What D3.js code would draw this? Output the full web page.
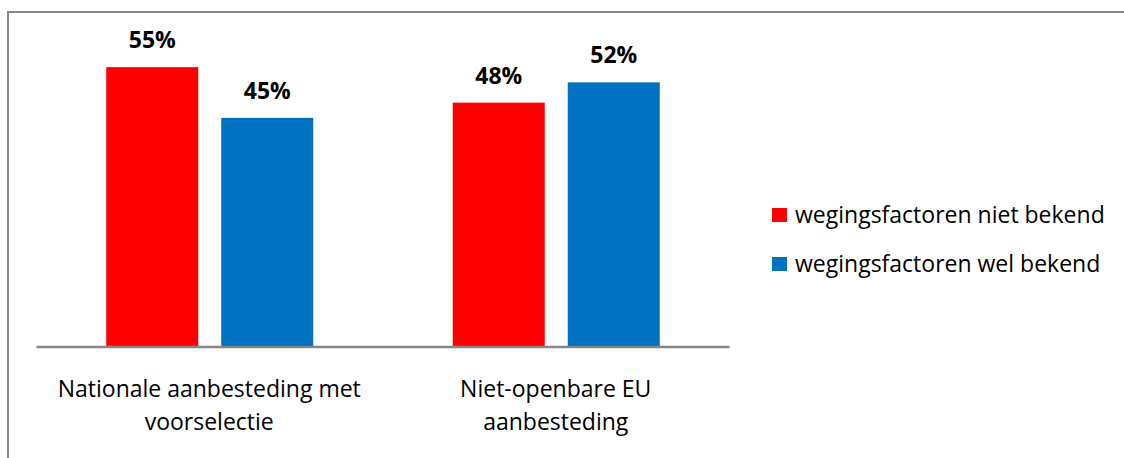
<!DOCTYPE html>
<html><head><meta charset="utf-8">
<script src="https://cdn.jsdelivr.net/npm/d3@7"></script>
<style>body{margin:0;background:#fff}svg{display:block}</style>
</head><body>
<script>
const categories = [["Nationale aanbesteding met","voorselectie"],["Niet-openbare EU","aanbesteding"]];
const seriesNames = ["wegingsfactoren niet bekend","wegingsfactoren wel bekend"];
const seriesColors = ["#FF0000","#0070C0"];
const nietBekend = [55, 48];
const welBekend = [45, 52];
const seriesValues = [nietBekend, welBekend];

const W = 1124, H = 458;
const svg = d3.select("body").append("svg").attr("width", W).attr("height", H);
svg.append("rect").attr("x", 8).attr("y", 12).attr("width", 1130).attr("height", 470)
  .attr("fill", "none").attr("stroke", "#868686").attr("stroke-width", 2);

const plot = {left: 36, right: 729, bottom: 346};
const y = d3.scaleLinear().domain([0, 60]).range([plot.bottom, plot.bottom - 60 * 5.07]);
const x0 = d3.scaleBand().domain(d3.range(categories.length)).range([plot.left, plot.right]).paddingInner(0).paddingOuter(0);
const groupW = 207;
const x1 = d3.scaleBand().domain(d3.range(seriesNames.length)).range([0, groupW]).paddingInner(0.2).paddingOuter(0);

const g = svg.append("g");
categories.forEach((c, ci) => {
  const gx = x0(ci) + (x0.bandwidth() - groupW) / 2 + 0.5;
  seriesValues.forEach((vals, si) => {
    const v = vals[ci];
    const bx = gx + x1(si);
    g.append("rect").attr("x", bx).attr("y", y(v)).attr("width", x1.bandwidth())
      .attr("height", y(0) - y(v)).attr("fill", seriesColors[si]);
    g.append("text").attr("x", bx + x1.bandwidth() / 2).attr("y", y(v) - 19)
      .attr("text-anchor", "middle").attr("font-family", "Open Sans, sans-serif")
      .attr("font-weight", "bold").attr("font-size", 23).attr("fill", "#000").text(v + "%");
  });
  c.forEach((line, li) => {
    g.append("text").attr("x", x0(ci) + x0.bandwidth() / 2).attr("y", 397 + li * 33)
      .attr("text-anchor", "middle").attr("font-family", "Open Sans, sans-serif")
      .attr("font-size", 23).attr("fill", "#000").text(line);
  });
});

// axis
const xAxis = d3.axisBottom(x0).tickSize(0).tickFormat("");
svg.append("g").attr("transform", `translate(0,${plot.bottom + 0.5})`).call(xAxis)
  .call(s => s.select(".domain").attr("stroke", "#868686").attr("stroke-width", 2.5));

// legend
const leg = svg.append("g").attr("transform", "translate(772,208)");
seriesNames.forEach((n, i) => {
  leg.append("rect").attr("x", 0).attr("y", i * 49).attr("width", 15).attr("height", 14).attr("fill", seriesColors[i]);
  leg.append("text").attr("x", 23).attr("y", i * 49 + 15).attr("font-family", "Open Sans, sans-serif")
    .attr("font-size", 23).attr("fill", "#000").text(n);
});
</script>
</body></html>
